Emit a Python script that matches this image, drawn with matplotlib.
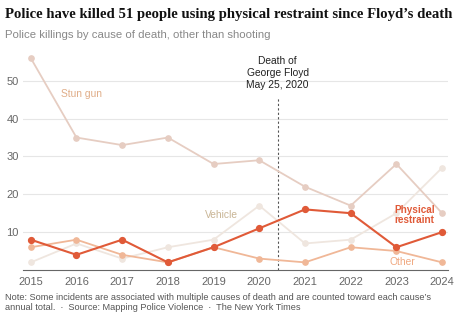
import matplotlib.pyplot as plt

plt.rcParams["font.family"] = ["Liberation Sans", "DejaVu Sans"]

years = [2015, 2016, 2017, 2018, 2019, 2020, 2021, 2022, 2023, 2024]
stun_gun = [56, 35, 33, 35, 28, 29, 22, 17, 28, 15]
vehicle = [2, 7, 3, 6, 8, 17, 7, 8, 15, 27]
other = [6, 8, 4, 2, 6, 3, 2, 6, 5, 2]
restraint = [8, 4, 8, 2, 6, 11, 16, 15, 6, 10]
floyd_date = 2020.4

fig = plt.figure(figsize=(4.6, 3.28), dpi=100)
ax = fig.add_axes([0.05, 0.177, 0.924, 0.692])

# lines, lightest first
ax.plot(years, vehicle, color="#efe6df", lw=1.3, marker="o", ms=3.8, zorder=2)
ax.plot(years, stun_gun, color="#e6cdc2", lw=1.3, marker="o", ms=3.8, zorder=3)
ax.plot(years, other, color="#f0b797", lw=1.3, marker="o", ms=3.8, zorder=4)
ax.plot(years, restraint, color="#e05a38", lw=1.5, marker="o", ms=4.2, zorder=5)

ax.set_xlim(2014.83, 2024.13)
ax.set_ylim(0, 60)
ax.set_yticks([10, 20, 30, 40, 50])
ax.set_xticks(years)
ax.grid(axis="y", color="#e6e6e6", lw=0.8)
ax.set_axisbelow(True)
for s in ["top", "right", "left"]:
    ax.spines[s].set_visible(False)
ax.spines["bottom"].set_color("#666666")
ax.tick_params(axis="y", length=0, pad=3, labelsize=8, labelcolor="#666666")
ax.tick_params(axis="x", length=0, pad=5, labelsize=8, labelcolor="#666666")

# Floyd marker
ax.plot([floyd_date, floyd_date], [0, 45.8], color="#555555", lw=0.8,
        ls=(0, (2, 2)), zorder=1)
ax.text(floyd_date, 47.5, "Death of\nGeorge Floyd\nMay 25, 2020", ha="center",
        va="bottom", fontsize=7.4, color="#222222", linespacing=1.25)

# series labels
ax.text(2015.66, 46.5, "Stun gun", fontsize=7.4, color="#e0ad88", va="center")
ax.text(2018.81, 14.5, "Vehicle", fontsize=7.4, color="#c9b595", va="center")
ax.text(2023.4, 14.5, "Physical\nrestraint", fontsize=7.2, color="#e05a38",
        fontweight="bold", ha="center", va="center", linespacing=1.05)
ax.text(2023.13, 2.1, "Other", fontsize=7.4, color="#f0a880", ha="center",
        va="center")

# title and notes
fig.text(0.011, 0.957, "Police have killed 51 people using physical restraint since Floyd\u2019s death",
         fontsize=10.6, fontweight="bold", family="Liberation Serif", color="#111111",
         va="center")
fig.text(0.011, 0.893, "Police killings by cause of death, other than shooting",
         fontsize=8.2, color="#888888", va="center")
fig.text(0.011, 0.094, "Note: Some incidents are associated with multiple causes of death and are counted toward each cause\u2019s",
         fontsize=6.55, color="#555555", va="center")
fig.text(0.011, 0.061, "annual total.  \u00b7  Source: Mapping Police Violence  \u00b7  The New York Times",
         fontsize=6.55, color="#555555", va="center")

fig.savefig("out.png", dpi=100)
